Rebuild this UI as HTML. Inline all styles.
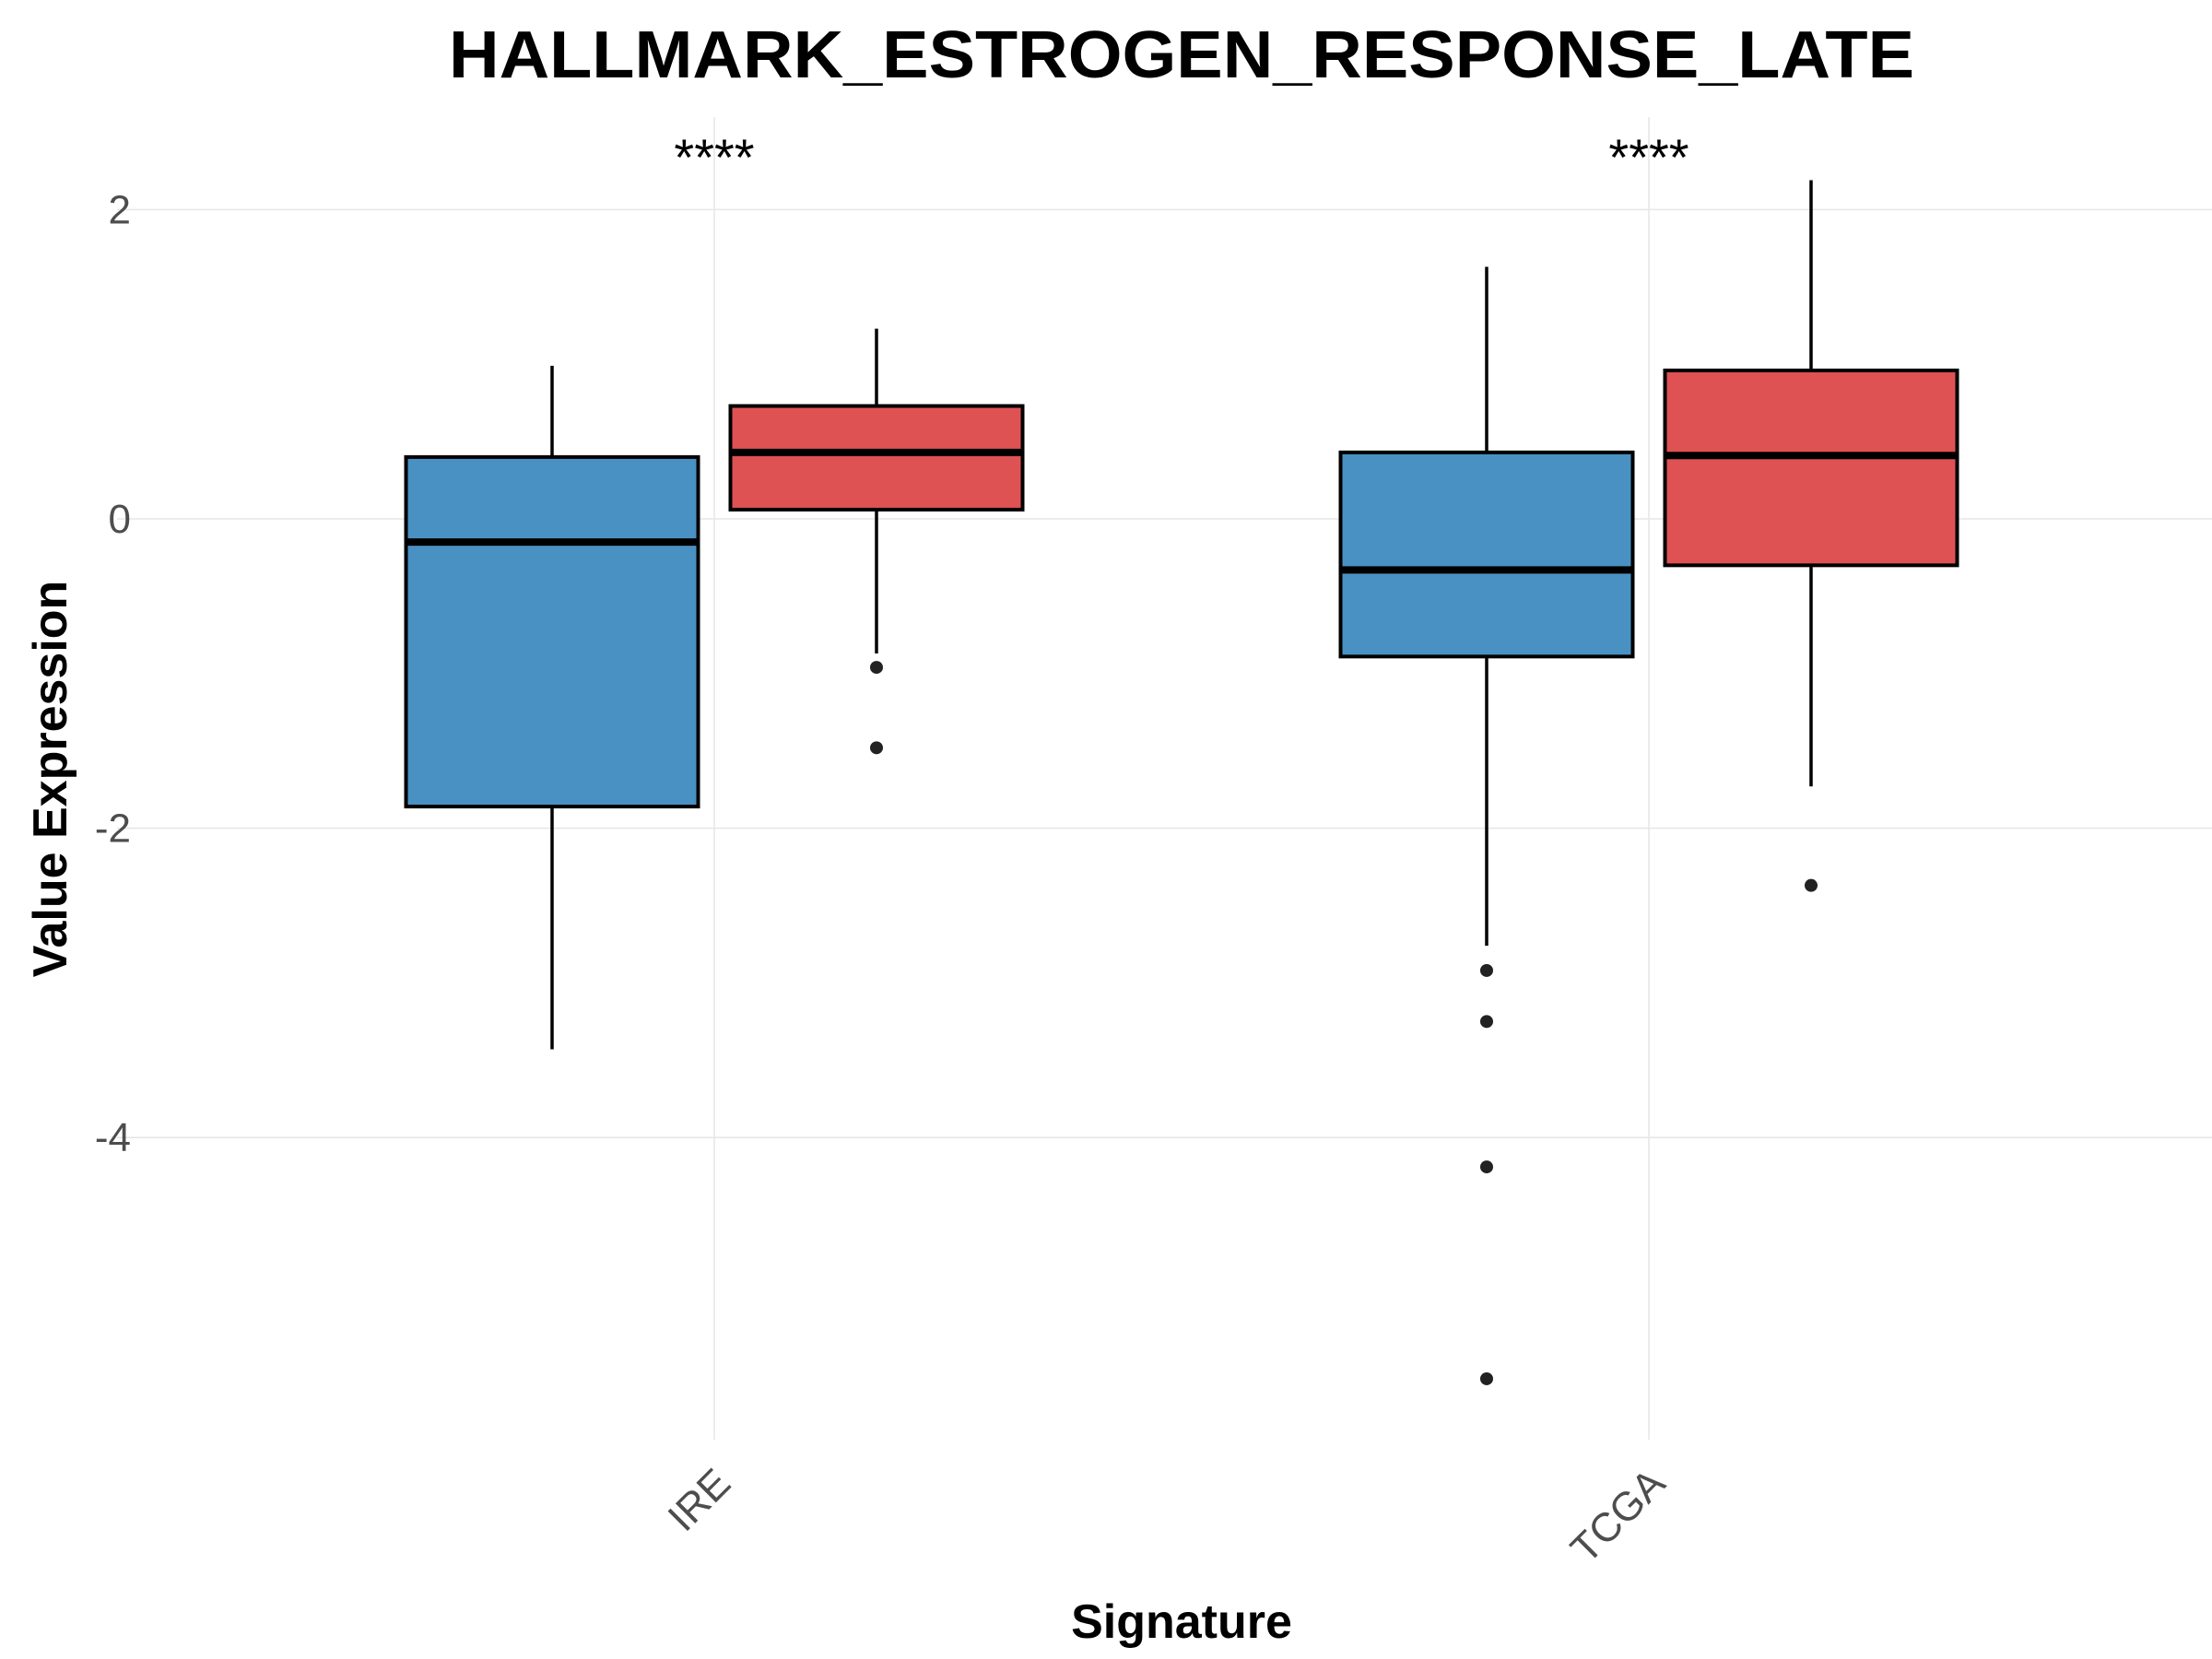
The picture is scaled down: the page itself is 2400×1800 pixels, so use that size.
<!DOCTYPE html>
<html><head><meta charset="utf-8"><style>
html,body{margin:0;padding:0;background:#fff;}
svg{display:block;font-family:"Liberation Sans",Arial,sans-serif;}
</style></head><body>
<svg id="chart" width="2400" height="1800" viewBox="0 0 2400 1800"></svg>
<script>
const categories = ["IRE", "TCGA"];
const groups = ["blue", "red"];
const whiskerLow = [[-3.43, -0.87], [-2.76, -1.73]];
const q1 = [[-1.86, 0.06], [-0.89, -0.30]];
const medians = [[-0.15, 0.43], [-0.33, 0.41]];
const q3 = [[0.40, 0.73], [0.43, 0.96]];
const whiskerHigh = [[0.99, 1.23], [1.63, 2.19]];
const outliers = [[[], [-0.96, -1.48]], [[-2.92, -3.25, -4.19, -5.56], [-2.37]]];
const yTicks = [2, 0, -2, -4];
const sigLabels = ["****", "****"];

const NS = "http://www.w3.org/2000/svg";
const svg = document.getElementById("chart");
const fills = {blue: "#4a91c3", red: "#df5254"};
const plotL = 127, plotR = 2400, plotT = 127, plotB = 1562;
function yScale(v){ return 563 - v * 167.8; }
function xScale(i){ return 775 + i * 1014; }
const offset = 176, boxW = 317;
function mk(tag, attrs, parent){
  const e = document.createElementNS(NS, tag);
  for (const k in attrs) e.setAttribute(k, attrs[k]);
  (parent || svg).appendChild(e);
  return e;
}
yTicks.forEach(t => {
  const g = mk("line", {x1: plotL, x2: plotR, y1: yScale(t), y2: yScale(t), stroke: "#e6e6e6", "stroke-width": 1.5});
  
  
  const tl = mk("text", {x: 142, y: yScale(t) + 15, "text-anchor": "end", "font-size": 44, fill: "#4d4d4d"});
  tl.textContent = t;
  
  
});
categories.forEach((c, i) => {
  const g = mk("line", {x1: xScale(i), x2: xScale(i), y1: plotT, y2: plotB, stroke: "#e6e6e6", "stroke-width": 1.5});
  
  
});
categories.forEach((c, i) => {
  groups.forEach((gname, j) => {
    const cx = xScale(i) + (j === 0 ? -offset : offset);
    const grp = mk("g", {});
    
    
    mk("line", {x1: cx, x2: cx, y1: yScale(whiskerHigh[i][j]), y2: yScale(q3[i][j]), stroke: "#000", "stroke-width": 3.5}, grp);
    mk("line", {x1: cx, x2: cx, y1: yScale(q1[i][j]), y2: yScale(whiskerLow[i][j]), stroke: "#000", "stroke-width": 3.5}, grp);
    mk("rect", {x: cx - boxW/2, y: yScale(q3[i][j]), width: boxW, height: yScale(q1[i][j]) - yScale(q3[i][j]), fill: fills[gname], stroke: "#000", "stroke-width": 4}, grp);
    mk("line", {x1: cx - boxW/2, x2: cx + boxW/2, y1: yScale(medians[i][j]), y2: yScale(medians[i][j]), stroke: "#000", "stroke-width": 8}, grp);
    outliers[i][j].forEach(v => {
      const p = mk("circle", {cx: cx, cy: yScale(v), r: 7, fill: "#222"}, grp);
      
      
    });
  });
  const s = mk("text", {x: xScale(i), y: 190, "text-anchor": "middle", "font-size": 56, fill: "#000"});
  s.textContent = sigLabels[i];
  
  
  const xl = mk("text", {x: xScale(i) + 20, y: 1612, "text-anchor": "end", "font-size": 44, fill: "#4d4d4d", transform: "rotate(-45 " + (xScale(i) + 20) + " 1612)"});
  xl.textContent = c;
  
  
});
</script>
<script>
(function(){
  const NS = "http://www.w3.org/2000/svg";
  const svg = document.getElementById("chart");
  function t(txt, attrs){
    const e = document.createElementNS(NS, "text");
    for (const k in attrs) e.setAttribute(k, attrs[k]);
    e.textContent = txt; svg.appendChild(e); return e;
  }
  const ti = t("HALLMARK_ESTROGEN_RESPONSE_LATE", {x: 1282, y: 84, "text-anchor": "middle", "font-size": 72, "font-weight": "bold", fill: "#000", textLength: 1590, lengthAdjust: "spacingAndGlyphs"});
  
  
  const xt = t("Signature", {x: 1282, y: 1777, "text-anchor": "middle", "font-size": 52, "font-weight": "bold", fill: "#000"});
  
  
  const yt = t("Value Expression", {x: 0, y: 0, "text-anchor": "middle", "font-size": 52, "font-weight": "bold", fill: "#000", transform: "translate(72 845) rotate(-90)"});
  
  
})();
</script>
</body></html>
